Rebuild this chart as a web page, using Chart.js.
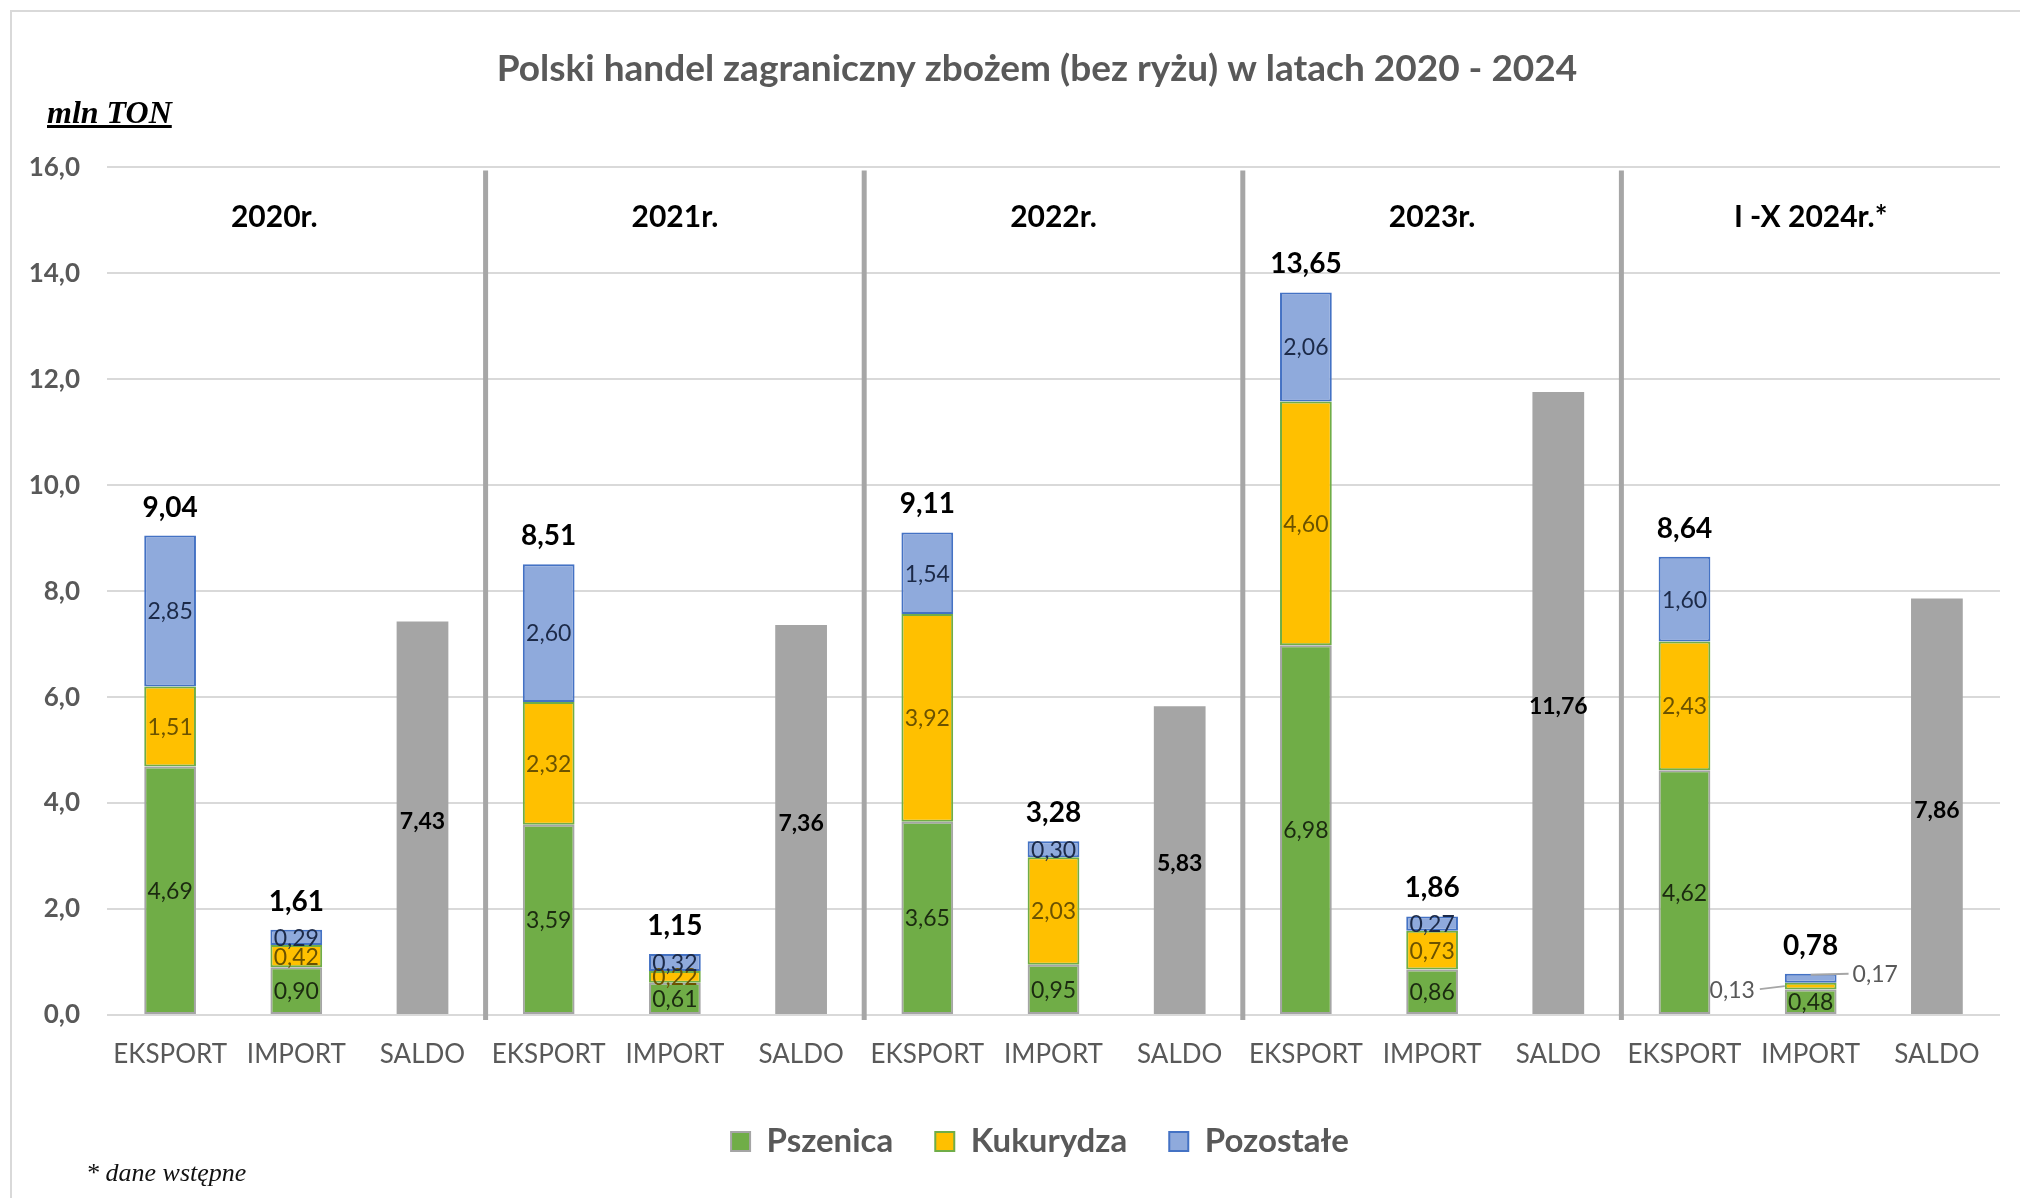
<!DOCTYPE html>
<html><head><meta charset="utf-8">
<script src="https://cdn.jsdelivr.net/npm/chart.js@4.4.1/dist/chart.umd.min.js"></script>
<style>
html,body{margin:0;padding:0;background:#fff;}
#wrap{position:relative;width:2020px;height:1198px;overflow:hidden;background:#fff;}
#frame{position:absolute;left:10px;top:10px;width:2040px;height:1230px;border:2px solid #d9d9d9;box-sizing:border-box;}
#cwrap{position:absolute;left:0;top:0;width:2020px;height:1198px;}
#unit{position:absolute;left:47px;top:93px;font:italic bold 32px "Liberation Serif";text-decoration:underline;color:#000;line-height:38px;}
#note{position:absolute;left:86px;top:1158px;font:italic 26px "Liberation Serif";color:#111;line-height:30px;}
</style></head>
<body>
<div id="wrap">
<div id="frame"></div>
<div id="cwrap"><canvas id="c"></canvas></div>
<div id="unit">mln TON</div>
<div id="note">* dane wstępne</div>
</div>
<script>
const chartTitle = 'Polski handel zagraniczny zbożem (bez ryżu) w latach 2020 - 2024';
const years = ['2020r.', '2021r.', '2022r.', '2023r.', 'I -X 2024r.*'];
const flows = ['EKSPORT', 'IMPORT', 'SALDO'];
const seriesNames = ['Pszenica', 'Kukurydza', 'Pozostałe'];

const eksportPszenica  = [4.69, 3.59, 3.65, 6.98, 4.62];
const eksportKukurydza = [1.51, 2.32, 3.92, 4.60, 2.43];
const eksportPozostale = [2.85, 2.60, 1.54, 2.06, 1.60];
const eksportTotal     = [9.04, 8.51, 9.11, 13.65, 8.64];

const importPszenica   = [0.90, 0.61, 0.95, 0.86, 0.48];
const importKukurydza  = [0.42, 0.22, 2.03, 0.73, 0.13];
const importPozostale  = [0.29, 0.32, 0.30, 0.27, 0.17];
const importTotal      = [1.61, 1.15, 3.28, 1.86, 0.78];

const saldo            = [7.43, 7.36, 5.83, 11.76, 7.86];

const yMax = 16;
const yStep = 2;

// ---- build library structures ----
const labels = [];
years.forEach(() => flows.forEach(f => labels.push(f)));
function spread(exp, imp, sal) {
  const out = [];
  for (let i = 0; i < years.length; i++) {
    out.push(exp ? exp[i] : null, imp ? imp[i] : null, sal ? sal[i] : null);
  }
  return out;
}
const totals = spread(eksportTotal, importTotal, null);
const fmt = v => v.toFixed(2).replace('.', ',');

const FONT = 'Lato';
const segLabelColors = ['#1b2a10', '#6b5200', '#1c2a48'];
const SIDE_LEFT = 80; // left inset for title & legend boxes

const labelPlugin = {
  id: 'customLabels',
  afterLayout(chart) {
    if (chart.legend) chart.legend.left = SIDE_LEFT;
    if (chart.titleBlock) chart.titleBlock.left = SIDE_LEFT - 6;
  },
  beforeDatasetsDraw(chart) {
    const {ctx, chartArea, scales: {x}} = chart;
    ctx.save();
    ctx.strokeStyle = '#a6a6a6';
    ctx.lineWidth = 5;
    for (let g = 1; g < years.length; g++) {
      const xp = (x.getPixelForValue(g * 3 - 1) + x.getPixelForValue(g * 3)) / 2;
      ctx.beginPath();
      ctx.moveTo(xp, chartArea.top + 3);
      ctx.lineTo(xp, chartArea.bottom + 5);
      ctx.stroke();
    }
    ctx.restore();
  },
  afterDatasetsDraw(chart) {
    const {ctx, scales: {x, y}} = chart;
    ctx.save();
    ctx.textAlign = 'center';
    ctx.textBaseline = 'middle';
    // segment labels
    for (let d = 0; d < 3; d++) {
      const meta = chart.getDatasetMeta(d);
      const data = chart.data.datasets[d].data;
      meta.data.forEach((el, i) => {
        const v = data[i];
        if (v === null || v === undefined) return;
        const half = el.width / 2;
        const cy = (el.y + el.base) / 2;
        if (v < 0.2) {
          ctx.font = `23px ${FONT}`;
          ctx.fillStyle = '#595959';
          ctx.strokeStyle = '#a6a6a6';
          ctx.lineWidth = 2;
          if (d === 1) {
            const bl = el.x - half;
            ctx.textAlign = 'right';
            ctx.fillText(fmt(v), bl - 30, cy + 4);
            ctx.beginPath(); ctx.moveTo(bl - 25, cy + 3); ctx.lineTo(bl, cy); ctx.stroke();
          } else {
            const br = el.x + half;
            ctx.textAlign = 'left';
            ctx.fillText(fmt(v), br + 16, el.y + 1);
            ctx.beginPath(); ctx.moveTo(el.x, el.y + 1); ctx.lineTo(br + 12, el.y); ctx.stroke();
          }
          ctx.textAlign = 'center';
          return;
        }
        ctx.font = `23px ${FONT}`;
        ctx.fillStyle = segLabelColors[d];
        ctx.fillText(fmt(v), el.x, cy + 1);
      });
    }
    // saldo labels
    const sMeta = chart.getDatasetMeta(3);
    const sData = chart.data.datasets[3].data;
    sMeta.data.forEach((el, i) => {
      const v = sData[i];
      if (v === null || v === undefined) return;
      ctx.font = `bold 23px ${FONT}`;
      ctx.fillStyle = '#000';
      ctx.fillText(fmt(v), el.x, (el.y + el.base) / 2 + 4);
    });
    // totals
    const topMeta = chart.getDatasetMeta(2);
    totals.forEach((t, i) => {
      if (t === null) return;
      const el = topMeta.data[i];
      ctx.font = `bold 28px ${FONT}`;
      ctx.fillStyle = '#000';
      ctx.fillText(fmt(t), el.x, el.y - 28);
    });
    // year labels
    years.forEach((yr, g) => {
      ctx.font = `bold 30px ${FONT}`;
      ctx.fillStyle = '#000';
      const shift = g === 0 ? -22 : 0;
      ctx.fillText(yr, x.getPixelForValue(g * 3 + 1) + shift, y.getPixelForValue(15.05));
    });
    ctx.restore();
  }
};

const datasetStyles = [
  {bg: '#70ad47', border: '#a5a5a5'},
  {bg: '#ffc000', border: '#70ad47'},
  {bg: '#8faadc', border: '#4472c4'}
];
const seriesData = [
  spread(eksportPszenica, importPszenica, null),
  spread(eksportKukurydza, importKukurydza, null),
  spread(eksportPozostale, importPozostale, null)
];
const datasets = seriesNames.map((n, k) => ({
  label: n,
  data: seriesData[k],
  backgroundColor: datasetStyles[k].bg,
  borderColor: datasetStyles[k].border,
  borderWidth: 2,
  borderSkipped: false,
  stack: 's'
}));
datasets.push({
  label: 'SALDO',
  data: spread(null, null, saldo),
  backgroundColor: '#a5a5a5',
  borderColor: '#a5a5a5',
  borderWidth: 0,
  stack: 's'
});

new Chart(document.getElementById('c'), {
  type: 'bar',
  data: {labels, datasets},
  plugins: [labelPlugin],
  options: {
    responsive: true,
    maintainAspectRatio: false,
    animation: false,
    events: [],
    layout: {padding: {left: 0, right: 20, top: 0, bottom: 30}},
    datasets: {bar: {barPercentage: 0.41, categoryPercentage: 1.0, skipNull: true}},
    scales: {
      x: {
        stacked: true,
        grid: {display: false, drawTicks: false},
        border: {display: false},
        ticks: {color: '#595959', font: {family: FONT, size: 26}, padding: 24, autoSkip: false, maxRotation: 0},
        afterFit: s => { s.height = 68; }
      },
      y: {
        stacked: true,
        min: 0, max: yMax,
        grid: {color: '#d9d9d9', lineWidth: 2, drawTicks: false},
        border: {display: false},
        ticks: {stepSize: yStep, color: '#595959', font: {family: FONT, size: 26, weight: 'bold'}, padding: 27,
                callback: v => v.toFixed(1).replace('.', ',')},
        afterFit: s => { s.width = 107; }
      }
    },
    plugins: {
      tooltip: {enabled: false},
      title: {
        display: true,
        text: chartTitle,
        color: '#595959',
        font: {family: FONT, size: 37, weight: 'bold'},
        padding: {top: 47, bottom: 76}
      },
      legend: {
        position: 'bottom',
        labels: {
          filter: item => item.datasetIndex < 3,
          color: '#595959',
          font: {family: FONT, size: 33, weight: 'bold'},
          boxWidth: 19, boxHeight: 19,
          padding: 42
        }
      }
    }
  }
});
</script>
</body></html>
